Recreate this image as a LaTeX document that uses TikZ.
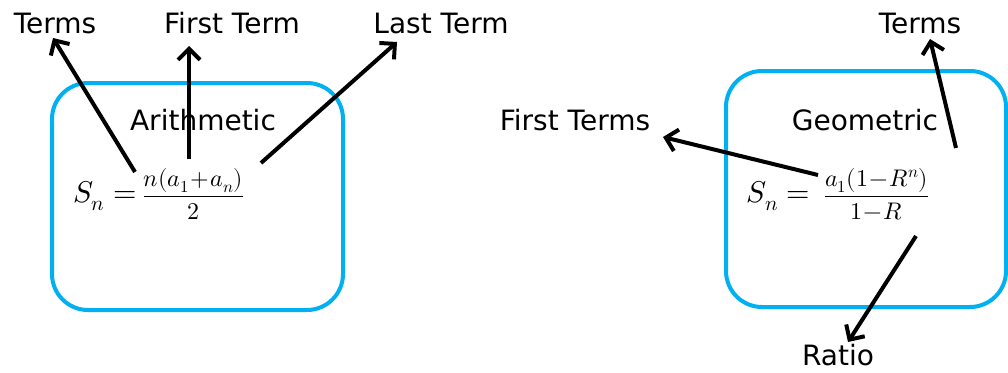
\documentclass[tikz,border=0pt]{standalone}
\usepackage{fontspec}
\usepackage{unicode-math}
\setmainfont{DejaVu Sans}
\setmathfont{Latin Modern Math}
\usetikzlibrary{arrows.meta,calc}
\definecolor{boxblue}{RGB}{0,176,240}
\newcommand{\bigpart}[1]{{\fontsize{30}{34}\selectfont$#1$}}
\newcommand{\fracpart}[2]{{\fontsize{24}{30}\selectfont\medmuskip=1mu$\displaystyle\frac{#1}{#2}$}}
\begin{document}
\begin{tikzpicture}[x=1pt,y=-1pt,
  sumbox/.style={draw=boxblue,line width=4pt,rounded corners=36pt},
  lbl/.style={anchor=base,inner sep=0pt,font=\fontsize{28}{30}\selectfont},
  formula/.style={inner sep=0pt},
  pointer/.style={line width=4pt,-{Straight Barb[length=11pt,width=22pt,line width=4pt]}}]
\useasboundingbox (0,0) rectangle (1008,372);

% arithmetic series
\draw[sumbox] (52,83) rectangle (343,310);
\node[lbl] (arith) at (203,130) {Arithmetic};
\node[formula] (fa) at (159,194) {\bigpart{S_n=}\hspace{6pt}\fracpart{n(a_1+a_n)}{2}};
\node[lbl] (termsL) at (55,33) {Terms};
\node[lbl] (firstL) at (232,33) {First Term};
\node[lbl] (lastL) at (441,33) {Last Term};

% geometric series
\draw[sumbox] (726,71) rectangle (1006,307);
\node[lbl] (geom) at (865,130) {Geometric};
\node[formula] (fg) at (838,194) {\bigpart{S_n=}\hspace{14pt}\fracpart{a_1(1-R^n)}{1-R}};
\node[lbl] (firstR) at (575,130) {First Terms};
\node[lbl] (termsR) at (920,33) {Terms};
\node[lbl] (ratio) at (838,365) {Ratio};

% pointer ends
\coordinate (sA1) at (135,172);
\coordinate (sA2) at (189,159);
\coordinate (sA3) at (261,163);
\coordinate (tA1) at ([shift={(-2,5)}]termsL.base);
\coordinate (tA2) at ([shift={(-43,13)}]firstL.base);
\coordinate (tA3) at ([shift={(-44,9)}]lastL.base);

\coordinate (sG1) at (818,175);
\coordinate (sG2) at (956,148);
\coordinate (sG3) at (916,236);
\coordinate (tG1) at ([shift={(88,7)}]firstR.base);
\coordinate (tG2) at ([shift={(10,6)}]termsR.base);
\coordinate (tG3) at ([shift={(10,-23)}]ratio.base);

\draw[pointer] (sA1) -- (tA1);
\draw[pointer] (sA2) -- (tA2);
\draw[pointer] (sA3) -- (tA3);
\draw[pointer] (sG1) -- (tG1);
\draw[pointer] (sG2) -- (tG2);
\draw[pointer] (sG3) -- (tG3);
\end{tikzpicture}
\end{document}
